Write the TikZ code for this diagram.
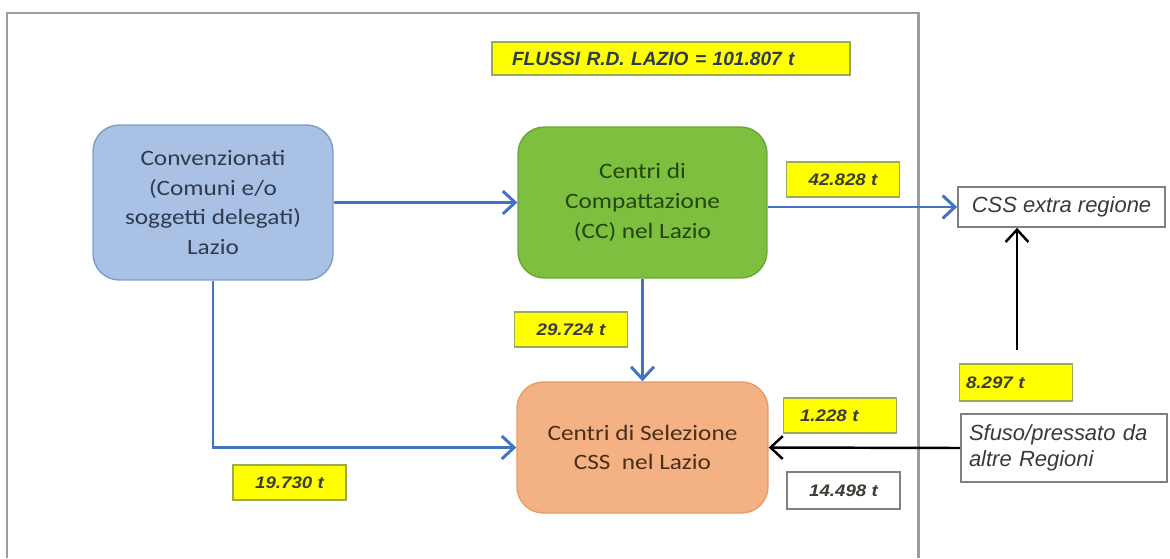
\documentclass[tikz,border=0pt]{standalone}
\usepackage{fontspec}
\setmainfont{Liberation Sans}
\newfontfamily\calfont[FakeStretch=1.15]{Carlito}
\newfontfamily\lblfont[FakeStretch=1.12]{Liberation Sans}
\usetikzlibrary{arrows.meta}
\definecolor{frameg}{HTML}{9A9DA8}
\definecolor{convfill}{HTML}{A8C1E4}
\definecolor{convdraw}{HTML}{7F9CC8}
\definecolor{convtext}{HTML}{2E3B50}
\definecolor{ccfill}{HTML}{7DBF3F}
\definecolor{ccdraw}{HTML}{6AA636}
\definecolor{cctext}{HTML}{23460C}
\definecolor{csfill}{HTML}{F4B183}
\definecolor{csdraw}{HTML}{E69C68}
\definecolor{cstext}{HTML}{4A2E18}
\definecolor{lblfill}{HTML}{FFFF00}
\definecolor{lbldraw}{HTML}{9AAA58}
\definecolor{lbltext}{HTML}{3C3C34}
\definecolor{arrblue}{HTML}{4472C4}
\definecolor{boxgray}{HTML}{808080}
\definecolor{txtgray}{HTML}{3A3A3A}
\tikzset{
  bigbox/.style={draw, line width=0.8pt, rounded corners=15pt, align=center,
    font=\calfont\fontsize{12.5}{17}\selectfont},
  lbl/.style={draw=lbldraw, fill=lblfill, line width=1pt, minimum width=2.26cm,
    minimum height=0.7cm, inner sep=0pt, text=lbltext,
    font=\lblfont\fontsize{9.5}{11}\selectfont\bfseries\itshape},
  wlbl/.style={lbl, draw=boxgray, fill=white},
  wbox/.style={draw=boxgray, fill=white, line width=1pt, inner sep=0pt,
    text=txtgray, font=\fontsize{12.5}{14.5}\selectfont\itshape},
  bluearrow/.style={draw=arrblue, line width=1.7pt, -{Straight Barb[length=7pt,width=13pt]}},
  blackarrow/.style={draw=black, line width=1.4pt, -{Straight Barb[length=7pt,width=13pt]}}
}
\begin{document}
\begin{tikzpicture}[x=0.02cm, y=-0.02cm]
\useasboundingbox (0,0) rectangle (1170,558);
% frame
\draw[frameg, line width=1.7pt] (7,558) -- (7,13) -- (918,13) -- (918,558);

% main boxes
\node[bigbox, fill=convfill, draw=convdraw, text=convtext, minimum width=4.8cm, minimum height=3.1cm]
  (conv) at (213,202.5) {Convenzionati\\(Comuni e/o\\soggetti delegati)\\Lazio};
\node[bigbox, fill=ccfill, draw=ccdraw, text=cctext, minimum width=4.98cm, minimum height=3.02cm]
  (cc) at (642.5,202.5) {Centri di\\Compattazione\\(CC) nel Lazio};
\node[bigbox, fill=csfill, draw=csdraw, text=cstext, minimum width=5.02cm, minimum height=2.62cm]
  (cs) at (642.5,447.5) {Centri di Selezione\\CSS\ \ nel Lazio};

% title label
\node[lbl, minimum width=7.16cm, minimum height=0.66cm, text width=6.36cm, align=left,
  font=\fontsize{10.9}{12}\selectfont\bfseries\itshape, text=convtext]
  (flussi) at (671,58.5) {FLUSSI R.D. LAZIO = 101.807 t};

% value labels
\node[lbl] (l42) at (843,179.5) {42.828 t};
\node[lbl] (l29) at (571,329.5) {29.724 t};
\node[lbl, text width=1.9cm, align=left] (l1228) at (840,415.5) {\hspace*{0.15cm}1.228 t};
\node[wlbl, minimum height=0.74cm] (l14) at (843.5,490.5) {14.498 t};
\node[lbl, minimum height=0.74cm, text width=2.0cm, align=left] (l8) at (1016,382.5) {8.297 t};
\node[lbl] (l19) at (289.5,482.5) {19.730 t};

% external boxes
\node[wbox, minimum width=4.14cm, minimum height=0.8cm] (css) at (1061.5,207) {CSS extra regione};
\node[wbox, minimum width=4.12cm, minimum height=1.36cm, text width=3.8cm, align=left]
  (sfuso) at (1064,448) {Sfuso/pressato da\\altre Regioni};

% connectors
\draw[bluearrow] (conv.east) -- (cc.west);
\draw[bluearrow] (css.west -| cc.east) -- (css.west);
\draw[bluearrow] (cc.south) -- (cs.north);
\draw[bluearrow] (conv.south) -- (conv.south |- cs.west) -- (cs.west);
\draw[blackarrow] (sfuso.west) -- (cs.east);
\coordinate (up) at (1017,350);
\draw[blackarrow] (up) -- (up |- css.south);
\end{tikzpicture}
\end{document}
